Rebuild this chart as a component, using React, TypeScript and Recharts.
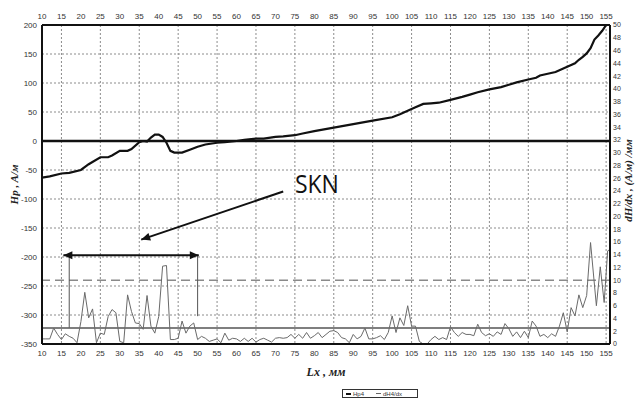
import React from "react";
import {
  LineChart,
  Line,
  XAxis,
  YAxis,
  CartesianGrid,
  ReferenceLine,
  ReferenceDot,
  Legend,
} from "recharts";

// ---- data ----
const xTicks = [10, 15, 20, 25, 30, 35, 40, 45, 50, 55, 60, 65, 70, 75, 80, 85, 90, 95, 100, 105, 110, 115, 120, 125, 130, 135, 140, 145, 150, 155];
const leftTicks = [-350, -300, -250, -200, -150, -100, -50, 0, 50, 100, 150, 200];
const rightTicks = [0, 2, 4, 6, 8, 10, 12, 14, 16, 18, 20, 22, 24, 26, 28, 30, 32, 34, 36, 38, 40, 42, 44, 46, 48, 50];

const hpX = [10, 12, 15, 17, 20, 22, 25, 27, 28, 30, 32, 33, 35, 36, 37, 38, 39, 40, 41, 42, 43, 44, 46, 48, 50, 52, 55, 57, 60, 62, 65, 67, 70, 72, 75, 77, 80, 85, 90, 95, 100, 102, 104, 105, 106, 108, 110, 112, 115, 118, 120, 122, 125, 128, 130, 132, 135, 137, 138, 140, 142, 144, 145, 147, 148, 149, 150, 151, 152, 153, 154, 155];
const hpY = [-63, -61, -56, -55, -50, -40, -28, -28, -25, -17, -17, -14, -2, 0, -1, 6, 11, 11, 7, -3, -17, -20, -20, -15, -10, -6, -3, -2, 0, 2, 4, 4, 7, 8, 10, 13, 17, 23, 29, 35, 41, 46, 52, 55, 58, 64, 65, 66, 71, 76, 80, 84, 89, 93, 97, 101, 106, 109, 113, 116, 119, 125, 128, 134, 140, 145, 151, 160, 175, 182, 190, 200];

const dhX = [10, 11, 12, 13, 14, 15, 16, 17, 18, 19, 20, 21, 22, 23, 24, 25, 26, 27, 28, 29, 30, 31, 32, 33, 34, 35, 36, 37, 38, 39, 40, 41, 42, 43, 44, 45, 46, 47, 48, 49, 50, 51, 52, 53, 54, 55, 56, 57, 58, 59, 60, 61, 62, 63, 64, 65, 66, 67, 68, 69, 70, 71, 72, 73, 74, 75, 76, 77, 78, 79, 80, 81, 82, 83, 84, 85, 86, 87, 88, 89, 90, 91, 92, 93, 94, 95, 96, 97, 98, 99, 100, 101, 102, 103, 104, 105, 106, 107, 108, 109, 110, 111, 112, 113, 114, 115, 116, 117, 118, 119, 120, 121, 122, 123, 124, 125, 126, 127, 128, 129, 130, 131, 132, 133, 134, 135, 136, 137, 138, 139, 140, 141, 142, 143, 144, 145, 146, 147, 148, 149, 150, 151, 152.5, 153.5, 154.5, 155.4, 156];
const dhY = [0.8, 0.8, 0.8, 2.5, 1.5, 0.7, 1.6, 1.2, 0.9, 0.2, 3.5, 8.1, 4.1, 5.5, 0.2, 1.7, 1.5, 4.3, 5.4, 4.9, 0.4, 0.2, 7.7, 5.1, 3.3, 3.2, 2.3, 7.6, 2.8, 1.7, 4.3, 12.2, 12.3, 0.7, 0.7, 0.9, 3.6, 1.7, 2.8, 3.3, 0.7, 1.2, 0.9, 0.4, 0.6, 0.8, 0.2, 1.7, 0.6, 0.9, 0.8, 0.4, 0.9, 0.4, 0.9, 0.3, 0.7, 0.9, 0.6, 0.3, 0.9, 1.0, 0.9, 1.0, 1.5, 0.9, 1.5, 0.9, 1.8, 0.9, 1.3, 1.8, 1.0, 1.5, 2.0, 2.1, 1.8, 1.0, 0.8, 0.2, 1.5, 0.8, 1.2, 2.5, 0.8, 0.8, 1.0, 1.3, 0.7, 1.8, 4.4, 1.8, 4.1, 2.9, 6.0, 2.8, 2.8, 0.4, 0, 0, 0.7, 1.2, 0.7, 1.0, 0.7, 2.7, 1.8, 1.2, 1.8, 1.5, 1.5, 1.3, 3.1, 1.8, 1.3, 1.6, 1.2, 1.9, 1.5, 3.2, 2.4, 1.2, 1.9, 1.0, 2.0, 1.0, 3.6, 2.8, 1.2, 1.5, 1.0, 1.6, 1.2, 2.8, 4.9, 1.9, 5.7, 4.4, 7.7, 5.7, 7.6, 15.9, 6.0, 12.1, 6.5, 14.6, 14.8];

// annotation values (data units)
const skn = { label: "SKN", x: 75, y: -90 };
const sknArrow = { x1: 72, y1: -87, x2: 35.5, y2: -170 };
const rangeArrow = { x1: 15.5, x2: 50.3, y: -197 };
const rangeLeft = { x: 17, yTop: -197, yBottom: -322 };
const rangeRight = { x: 50, yTop: -197, yBottom: -302 };
const thresholdSolid = 2.5;
const thresholdDashed = 10;

const hpData = hpX.map((x, i) => ({ x, v: hpY[i] }));
const dhData = dhX.map((x, i) => ({ x, v: dhY[i] }));

const tickFont = { fontSize: 8, fill: "#333", fontFamily: "'Liberation Sans Narrow', 'Liberation Sans', Arial, sans-serif" };
const titleFont = { fontFamily: "'Liberation Serif', 'Times New Roman', serif", fontStyle: "italic" as const, fontWeight: 700, fill: "#222" };

const head = (xa: number, ya: number, xb: number, yb: number, len = 9, half = 4) => {
  const a = Math.atan2(yb - ya, xb - xa);
  const bx = xb - len * Math.cos(a);
  const by = yb - len * Math.sin(a);
  const px = -Math.sin(a) * half;
  const py = Math.cos(a) * half;
  return `${xb},${yb} ${bx + px},${by + py} ${bx - px},${by - py}`;
};

const arrowShape = (both: boolean) => (p: any) => {
  const { x1, y1, x2, y2 } = p;
  return (
    <g>
      <line x1={x1} y1={y1} x2={x2} y2={y2} stroke="#111" strokeWidth={2} />
      <polygon points={head(x1, y1, x2, y2)} fill="#111" />
      {both ? <polygon points={head(x2, y2, x1, y1)} fill="#111" /> : null}
    </g>
  );
};

const LegendBox = () => (
  <div style={{ paddingLeft: 342, paddingTop: 0, height: 11, boxSizing: "border-box" }}>
    <div
      style={{
        width: 76,
        height: 9,
        border: "1px solid #333",
        boxSizing: "border-box",
        display: "flex",
        alignItems: "center",
        fontSize: 6,
        lineHeight: "6px",
        fontFamily: "'Liberation Sans', Arial, sans-serif",
        color: "#333",
        paddingLeft: 3,
      }}
    >
      <span style={{ display: "inline-block", width: 5, height: 2, background: "#111", marginRight: 2 }} />
      <span style={{ marginRight: 12 }}>Hp4</span>
      <span style={{ display: "inline-block", width: 5, height: 1, background: "#666", marginRight: 2 }} />
      <span>dH4/dx</span>
    </div>
  </div>
);

export default function App() {
  return (
    <div style={{ position: "absolute", left: 0, top: 0, width: 635, height: 408, background: "#fff" }}>
      <LineChart width={635} height={408} margin={{ top: 5, right: 0, bottom: 8, left: 0 }}>
        <CartesianGrid xAxisId="bottom" yAxisId="left" stroke="#8c8c8c" strokeWidth={1} strokeDasharray="2 2" />
        <XAxis
          xAxisId="bottom"
          type="number"
          dataKey="x"
          domain={[10, 156]}
          ticks={xTicks}
          allowDataOverflow
          height={45}
          tick={tickFont}
          tickLine={false}
          tickSize={4}
          tickMargin={2}
          axisLine={{ stroke: "#111", strokeWidth: 2 }}
          label={{
            content: (p: any) => {
              const vb = p.viewBox;
              return (
                <text x={vb.x + vb.width / 2} y={vb.y + 32} textAnchor="middle" fontSize={12} style={titleFont}>
                  Lx , мм
                </text>
              );
            },
          }}
        />
        <XAxis
          xAxisId="top"
          orientation="top"
          type="number"
          dataKey="x"
          domain={[10, 156]}
          ticks={xTicks}
          allowDataOverflow
          height={20}
          tick={tickFont}
          tickLine={false}
          tickSize={4}
          tickMargin={2}
          axisLine={{ stroke: "#111", strokeWidth: 2 }}
        />
        <YAxis
          yAxisId="left"
          type="number"
          domain={[-350, 200]}
          ticks={leftTicks}
          width={42}
          tick={tickFont}
          tickLine={false}
          tickSize={3}
          tickMargin={2}
          axisLine={{ stroke: "#111", strokeWidth: 2 }}
          label={{
            content: (p: any) => {
              const vb = p.viewBox;
              const cx = vb.x + 15;
              const cy = vb.y + vb.height / 2;
              return (
                <text x={cx} y={cy} transform={`rotate(-90 ${cx} ${cy})`} textAnchor="middle" dominantBaseline="middle" fontSize={11} style={titleFont}>
                  Hp , A/м
                </text>
              );
            },
          }}
        />
        <YAxis
          yAxisId="right"
          orientation="right"
          type="number"
          domain={[0, 50]}
          ticks={rightTicks}
          width={25}
          tick={{ ...tickFont, fontSize: 7 }}
          tickLine={false}
          tickSize={2}
          tickMargin={1}
          interval={0}
          axisLine={{ stroke: "#111", strokeWidth: 2 }}
          label={{
            content: (p: any) => {
              const vb = p.viewBox;
              const cx = vb.x + 19;
              const cy = vb.y + vb.height / 2 - 4;
              return (
                <text x={cx} y={cy} transform={`rotate(-90 ${cx} ${cy})`} textAnchor="middle" dominantBaseline="middle" fontSize={11} style={titleFont}>
                  dH/dx , (A/м) /мм
                </text>
              );
            },
          }}
        />
        <Legend verticalAlign="bottom" content={() => <LegendBox />} />

        <ReferenceLine xAxisId="bottom" yAxisId="right" y={thresholdDashed} stroke="#8a8a8a" strokeWidth={1.5} strokeDasharray="9 5" />
        <ReferenceLine xAxisId="bottom" yAxisId="right" y={thresholdSolid} stroke="#555" strokeWidth={1.5} />
        <ReferenceLine xAxisId="bottom" yAxisId="left" y={0} stroke="#111" strokeWidth={2.5} />

        <ReferenceLine
          xAxisId="bottom"
          yAxisId="left"
          segment={[{ x: rangeLeft.x, y: rangeLeft.yTop }, { x: rangeLeft.x, y: rangeLeft.yBottom }]}
          stroke="#555"
          strokeWidth={1}
        />
        <ReferenceLine
          xAxisId="bottom"
          yAxisId="left"
          segment={[{ x: rangeRight.x, y: rangeRight.yTop }, { x: rangeRight.x, y: rangeRight.yBottom }]}
          stroke="#555"
          strokeWidth={1}
        />

        <Line xAxisId="bottom" yAxisId="right" data={dhData} dataKey="v" name="dH4/dx" stroke="#6a6a6a" strokeWidth={1} dot={false} isAnimationActive={false} />
        <Line xAxisId="bottom" yAxisId="left" data={hpData} dataKey="v" name="Hp4" stroke="#111" strokeWidth={2.2} dot={false} isAnimationActive={false} />

        <ReferenceLine
          xAxisId="bottom"
          yAxisId="left"
          segment={[{ x: rangeArrow.x1, y: rangeArrow.y }, { x: rangeArrow.x2, y: rangeArrow.y }]}
          shape={arrowShape(true)}
        />
        <ReferenceLine
          xAxisId="bottom"
          yAxisId="left"
          segment={[{ x: sknArrow.x1, y: sknArrow.y1 }, { x: sknArrow.x2, y: sknArrow.y2 }]}
          shape={arrowShape(false)}
        />
        <ReferenceDot
          xAxisId="bottom"
          yAxisId="left"
          x={skn.x}
          y={skn.y}
          r={0}
          shape={(p: any) => (
            <text x={p.cx} y={p.cy} fontSize={26} textLength={44} lengthAdjust="spacingAndGlyphs" fill="#111" fontFamily="'Open Sans', 'Liberation Sans', Arial, sans-serif">
              {skn.label}
            </text>
          )}
        />
      </LineChart>
    </div>
  );
}
